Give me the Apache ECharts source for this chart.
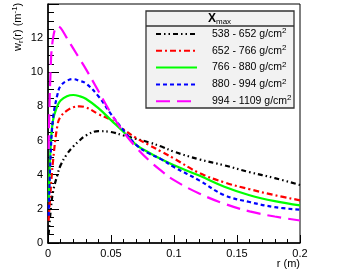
<!DOCTYPE html>
<html><head><meta charset="utf-8">
<script src="https://cdn.jsdelivr.net/npm/echarts@6/dist/echarts.min.js"></script>
<style>html,body{margin:0;padding:0;background:#fff}#c{width:349px;height:275px}</style>
</head><body><div id="c"></div>
<script>
var rValues = [0.0005,0.002,0.004,0.0075,0.01,0.015,0.02,0.025,0.03,0.04,0.05,0.06,0.07,0.08,0.09,0.1,0.12,0.14,0.16,0.18,0.2];
var s538 = [0.5,1.8,3.0,4.0,4.55,5.2,5.65,6.0,6.3,6.55,6.5,6.3,6.1,5.9,5.65,5.35,4.9,4.55,4.15,3.8,3.4];
var s652 = [1.3,3.0,4.8,6.9,7.4,7.75,7.95,8.0,7.95,7.55,7.2,6.65,6.15,5.75,5.35,4.95,4.1,3.55,3.15,2.8,2.5];
var s766 = [2.4,5.5,7.2,8.05,8.35,8.6,8.67,8.6,8.45,7.9,7.2,6.5,5.75,5.3,4.9,4.55,3.95,3.3,2.8,2.45,2.2];
var s880 = [1.6,5.0,7.3,8.7,9.2,9.5,9.6,9.5,9.35,8.6,7.55,6.6,5.75,5.25,4.9,4.45,3.67,2.8,2.4,2.1,1.95];
var s994 = [5.5,10.0,12.0,12.7,12.6,12.0,11.4,10.8,10.2,8.9,7.6,6.5,5.6,4.85,4.22,3.68,2.9,2.3,1.85,1.55,1.32];
var seriesNames = ['538 - 652 g/cm','652 - 766 g/cm','766 - 880 g/cm','880 - 994 g/cm','994 - 1109 g/cm'];
var xTicks = ['0','0.05','0.1','0.15','0.2'];

var allData = [s538,s652,s766,s880,s994];
var colors = ['#000000','#ff0000','#00ff00','#0000ff','#ff00ff'];
var dashes = [[5,3,1.5,3,1.5,3],[6,3,2,3],'solid',[4,3],[14,7]];
var FONT = 'Liberation Sans';

function pairs(ys){ return rValues.map(function(r,i){ return [r, ys[i]]; }); }

var series = allData.map(function(d,i){
  return {
    name: seriesNames[i], type:'line', data: pairs(d), smooth: 0.4,
    symbol:'none', showSymbol:false,
    lineStyle:{color:colors[i], width:2.2, type:dashes[i]},
    itemStyle:{color:colors[i]}
  };
});

var chart = echarts.init(document.getElementById('c'));
chart.setOption({
  animation:false,
  grid:{left:48, right:49, top:4, bottom:32, show:true, borderColor:'#000', borderWidth:1},
  xAxis:{type:'value', min:0, max:0.2, interval:0.05,
    axisLine:{lineStyle:{color:'#000', width:1.5}},
    axisTick:{inside:true, length:8, lineStyle:{color:'#000'}},
    minorTick:{show:true, splitNumber:5, length:4, lineStyle:{color:'#000'}},
    splitLine:{show:false},
    axisLabel:{color:'#000', fontFamily:FONT, fontSize:11, margin:5,
      formatter:function(v){ var i=Math.round(v/0.05); return xTicks[i]; }}
  },
  yAxis:{type:'value', min:0, max:14, interval:2,
    axisLine:{lineStyle:{color:'#000', width:1.5}},
    axisTick:{inside:true, length:11, lineStyle:{color:'#000'}},
    minorTick:{show:true, splitNumber:4, length:6, lineStyle:{color:'#000'}},
    splitLine:{show:false},
    axisLabel:{color:'#000', fontFamily:FONT, fontSize:11, margin:5, showMaxLabel:false,
      formatter:function(v){ return v===14?'':String(v); }}
  },
  legend:{orient:'vertical', left:150, top:22, itemWidth:41, itemHeight:12, itemGap:4.3, z:5,
    itemStyle:{opacity:0},
    textStyle:{fontFamily:FONT, fontSize:10.5, color:'#000', padding:[0,0,0,10],
      rich:{a:{fontFamily:FONT, fontSize:10.5, color:'#000'}, s:{fontFamily:FONT, fontSize:8, color:'#000', verticalAlign:'top', padding:[0,0,6,0]}}},
    formatter:function(n){ return '{a|'+n+'}{s|2}'; },
    data: seriesNames
  },
  graphic:[
    {type:'rect', z:0, shape:{x:146, y:11, width:148, height:97}, style:{fill:'#f2f2f2', stroke:'#333', lineWidth:1.3}},
    {type:'line', z:1, shape:{x1:146, y1:26, x2:294, y2:26}, style:{stroke:'#333', lineWidth:1.3}},
    {type:'text', z:2, left:208, top:13, style:{text:'{b|X}{m|max}', rich:{b:{fontFamily:FONT, fontWeight:'bold', fontSize:12, fill:'#000'}, m:{fontFamily:FONT, fontSize:8, fill:'#000', verticalAlign:'bottom', padding:[6,0,0,0]}}}},
    {type:'text', z:2, x:18, y:51, rotation:Math.PI/2, style:{text:'{a|w}{s|r}{a|(r) (m}{p|-1}{a|)}', align:'left', verticalAlign:'middle',
      rich:{a:{fontFamily:FONT, fontSize:11, fill:'#000'}, s:{fontFamily:FONT, fontSize:8, fill:'#000', padding:[6,0,0,0]}, p:{fontFamily:FONT, fontSize:8, fill:'#000', padding:[0,0,6,0]}}}},
    {type:'text', z:2, right:49, top:258, style:{text:'r (m)', fontFamily:FONT, fontSize:11, fill:'#000'}}
  ],
  series: series
});
</script></body></html>
